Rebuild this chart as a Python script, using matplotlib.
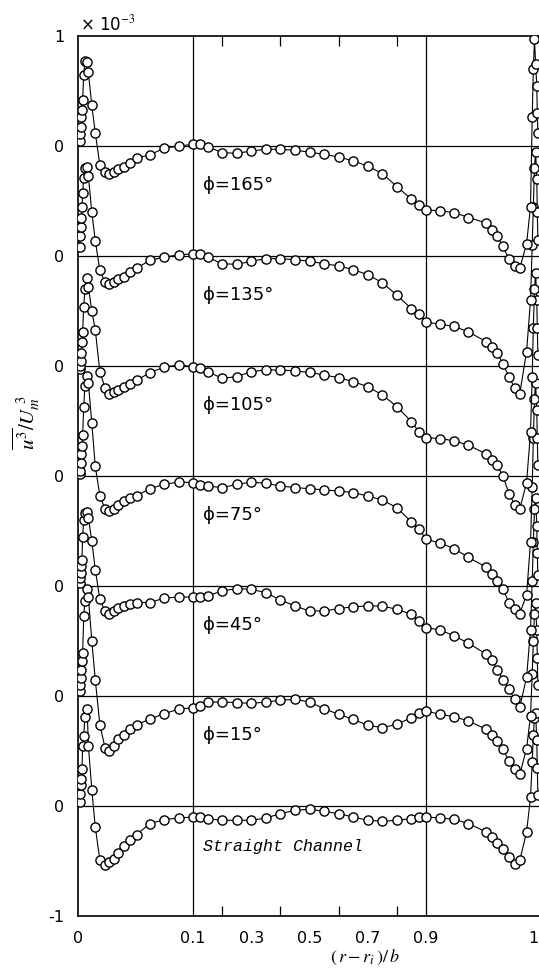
import numpy as np
import matplotlib
matplotlib.use("Agg")
import matplotlib.pyplot as plt

plt.rcParams['font.family'] = ['DejaVu Sans']
plt.rcParams['mathtext.fontset'] = 'stix'

# measuring stations (r - ri)/b, dense near both walls
x_left = [0.0015, 0.002, 0.0025, 0.003, 0.0035, 0.004, 0.005, 0.006, 0.008, 0.009,
          0.012, 0.015, 0.019, 0.0235, 0.027, 0.031, 0.035, 0.04, 0.045, 0.051,
          0.0625, 0.075, 0.0875]
x_mid = [0.1, 0.125, 0.15, 0.2, 0.25, 0.3, 0.35, 0.4, 0.45, 0.5, 0.55, 0.6, 0.65,
         0.7, 0.75, 0.8, 0.85, 0.875, 0.9]
x_right = [0.9125, 0.925, 0.9375, 0.9535, 0.958, 0.963, 0.968, 0.9735, 0.9785, 0.983,
           0.989, 0.9925, 0.994, 0.995, 0.996, 0.997, 0.998, 0.9985, 0.999]
x_all = x_left + x_mid + x_right

# u^3/Um^3 (x 1e-3), each profile read against its own zero line
u3_165 = ([0.05, 0.11, 0.17, 0.26, 0.33, 0.42, 0.65, 0.77, 0.76, 0.67, 0.37, 0.12, -0.17,
           -0.24, -0.25, -0.24, -0.21, -0.19, -0.15, -0.11, -0.08, -0.02, 0.0]
          + [0.015, 0.015, -0.006, -0.06, -0.067, -0.045, -0.03, -0.03, -0.039, -0.055,
             -0.076, -0.1, -0.136, -0.182, -0.251, -0.369, -0.484, -0.539, -0.581]
          + [-0.59, -0.605, -0.65, -0.70, -0.76, -0.82, -0.91, -1.03, -1.095, -1.11, -0.89,
             -0.55, 0.26, 0.70, 0.97, 0.75, 0.55, 0.30, 0.12])
u3_135 = ([0.08, 0.18, 0.26, 0.35, 0.45, 0.57, 0.71, 0.80, 0.81, 0.73, 0.40, 0.14, -0.13,
           -0.24, -0.25, -0.24, -0.21, -0.19, -0.145, -0.11, -0.04, -0.01, 0.01]
          + [0.02, 0.015, -0.01, -0.07, -0.076, -0.048, -0.024, -0.024, -0.033, -0.048,
             -0.07, -0.09, -0.124, -0.17, -0.242, -0.357, -0.478, -0.524, -0.6]
          + [-0.62, -0.64, -0.69, -0.78, -0.83, -0.88, -0.98, -1.1, -1.2, -1.25, -0.87,
             -0.4, 0.1, 0.45, 0.8, 0.95, 0.7, 0.4, 0.15])
u3_105 = ([-0.03, 0.0, 0.05, 0.12, 0.22, 0.31, 0.54, 0.70, 0.80, 0.72, 0.50, 0.33, -0.05,
           -0.2, -0.25, -0.24, -0.22, -0.19, -0.16, -0.13, -0.06, -0.01, 0.01]
          + [-0.006, -0.021, -0.051, -0.112, -0.097, -0.051, -0.036, -0.036, -0.045, -0.058,
             -0.082, -0.106, -0.142, -0.188, -0.263, -0.369, -0.506, -0.596, -0.651]
          + [-0.66, -0.68, -0.72, -0.8, -0.85, -0.9, -1.0, -1.16, -1.26, -1.3, -1.06,
             -0.6, -0.1, 0.35, 0.7, 0.85, 0.6, 0.35, 0.1])
u3_75 = ([0.02, 0.05, 0.12, 0.2, 0.27, 0.37, 0.63, 0.82, 0.91, 0.85, 0.48, 0.09, -0.18,
          -0.3, -0.32, -0.3, -0.26, -0.23, -0.2, -0.18, -0.115, -0.076, -0.055]
         + [-0.06, -0.08, -0.09, -0.106, -0.076, -0.055, -0.067, -0.09, -0.106, -0.115,
            -0.127, -0.136, -0.151, -0.182, -0.218, -0.288, -0.418, -0.478, -0.575]
         + [-0.61, -0.66, -0.74, -0.83, -0.89, -0.95, -1.03, -1.15, -1.21, -1.25, -1.08,
            -0.6, -0.1, 0.35, 0.7, 0.85, 0.6, 0.35, 0.1])
u3_45 = ([0.03, 0.07, 0.12, 0.18, 0.24, 0.45, 0.6, 0.66, 0.67, 0.62, 0.41, 0.15, -0.12,
          -0.23, -0.25, -0.23, -0.2, -0.18, -0.16, -0.15, -0.15, -0.11, -0.1]
         + [-0.1, -0.1, -0.09, -0.045, -0.024, -0.03, -0.06, -0.127, -0.182, -0.227,
            -0.227, -0.206, -0.188, -0.182, -0.182, -0.212, -0.257, -0.318, -0.378]
         + [-0.4, -0.454, -0.52, -0.62, -0.67, -0.76, -0.85, -0.94, -1.03, -1.1, -0.83,
            -0.4, 0.05, 0.4, 0.7, 0.8, 0.55, 0.3, 0.1])
u3_15 = ([0.05, 0.1, 0.16, 0.24, 0.32, 0.39, 0.73, 0.86, 0.97, 0.9, 0.5, 0.15, -0.26,
          -0.47, -0.5, -0.45, -0.39, -0.35, -0.3, -0.26, -0.21, -0.16, -0.12]
         + [-0.106, -0.09, -0.055, -0.055, -0.06, -0.067, -0.055, -0.039, -0.03, -0.055,
            -0.115, -0.167, -0.212, -0.266, -0.288, -0.257, -0.197, -0.151, -0.136]
         + [-0.167, -0.188, -0.227, -0.303, -0.357, -0.409, -0.484, -0.59, -0.666, -0.711,
            -0.478, -0.18, 0.2, 0.5, 0.75, 0.85, 0.6, 0.35, 0.1])
u3_straight = ([0.04, 0.11, 0.19, 0.25, 0.34, 0.55, 0.64, 0.81, 0.88, 0.55, 0.15, -0.19,
                -0.49, -0.54, -0.51, -0.48, -0.43, -0.36, -0.31, -0.26, -0.16, -0.124, -0.109]
               + [-0.1, -0.1, -0.115, -0.13, -0.13, -0.13, -0.109, -0.07, -0.039, -0.03,
                  -0.048, -0.07, -0.1, -0.13, -0.139, -0.13, -0.115, -0.1, -0.1]
               + [-0.109, -0.121, -0.16, -0.236, -0.282, -0.333, -0.387, -0.463, -0.524,
                  -0.494, -0.236, 0.08, 0.4, 0.65, 0.8, 0.85, 0.6, 0.35, 0.1])

profiles = [u3_straight, u3_15, u3_45, u3_75, u3_105, u3_135, u3_165]
labels = ['Straight Channel', 'ϕ=15°', 'ϕ=45°', 'ϕ=75°', 'ϕ=105°', 'ϕ=135°', 'ϕ=165°']

xtick_vals = [0, 0.1, 0.3, 0.5, 0.7, 0.9, 1]
xtick_text = ['0', '0.1', '0.3', '0.5', '0.7', '0.9', '1']
minor_x = [0.2, 0.3, 0.4, 0.5, 0.6, 0.7, 0.8]

# stretched axis: wall regions 0-0.1 and 0.9-1 are expanded
brk = [0, 0.1, 0.9, 1.0]
pos = [0, 115, 348, 461]


def fwd(x):
    return np.interp(x, brk, pos)


def inv(p):
    return np.interp(p, pos, brk)


fig = plt.figure(figsize=(5.39, 9.74), dpi=100)
ax = fig.add_axes([78 / 539, 58 / 974, 461 / 539, 880 / 974])
ax.set_xscale('function', functions=(fwd, inv))
ax.set_xlim(0, 1)
ax.set_ylim(-1, 7)

for k in range(7):
    ax.axhline(k, color='black', lw=0.9, zorder=1)
ax.axvline(0.1, color='black', lw=0.9, zorder=1)
ax.axvline(0.9, color='black', lw=0.9, zorder=1)

for k, prof in enumerate(profiles):
    ax.plot(x_all, np.array(prof) + k, '-o', color='black', lw=0.8, ms=6.6,
            mfc='white', mec='black', mew=1.0, zorder=3, clip_on=True)

for k, lab in enumerate(labels):
    if k == 0:
        ax.text(0.135, k - 0.37, lab, fontsize=12, family='Liberation Mono',
                style='italic', va='center', ha='left')
    else:
        ax.text(0.135, k - 0.35, lab, fontsize=13, va='center', ha='left')

ax.set_xticks(xtick_vals)
ax.set_xticklabels(xtick_text, fontsize=11.5)
ax.get_xticklabels()[-1].set_horizontalalignment('right')
ax.set_xticks(minor_x, minor=True)
ax.tick_params(axis='x', which='major', length=0, pad=11)
ax.tick_params(axis='x', which='minor', direction='in', length=7, width=0.9,
               top=True, bottom=True)

ax.set_yticks(range(-1, 8))
ax.set_yticklabels(['-1', '0', '0', '0', '0', '0', '0', '0', '1'], fontsize=11.5)
ax.tick_params(axis='y', length=0, pad=10)

ax.spines['right'].set_visible(False)
for s in ['left', 'top', 'bottom']:
    ax.spines[s].set_linewidth(1.2)

fig.text(80 / 539, 1 - 24 / 974, '× 10$^{-3}$', fontsize=12, va='center', ha='left')
fig.text(26 / 539, 1 - 423 / 974, r'$\overline{u^3}/U_m^{\ 3}$', fontsize=15,
         rotation=90, va='center', ha='center')
fig.text(365 / 539, 1 - 957 / 974, r'$(\,r-r_i\,)/\,b$', fontsize=13,
         va='center', ha='center')

fig.savefig('out.png', dpi=100)
